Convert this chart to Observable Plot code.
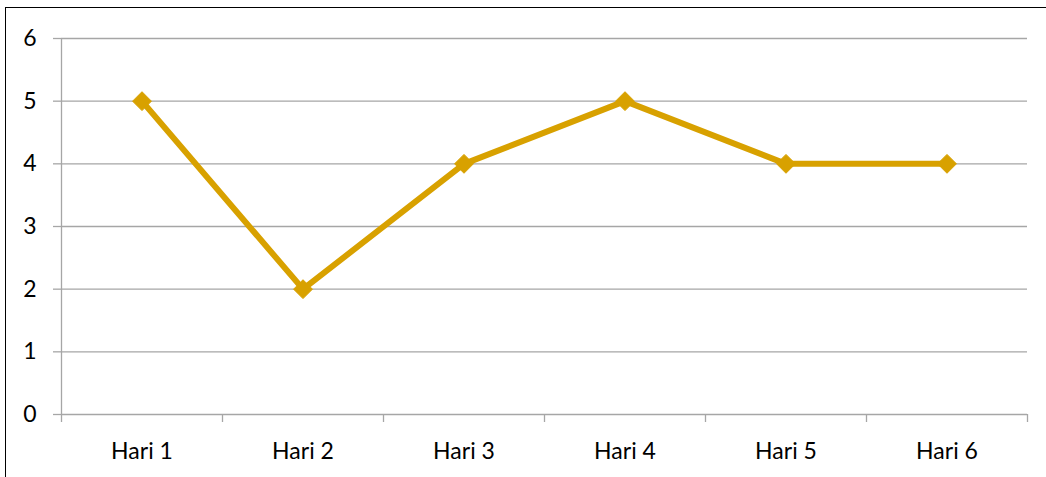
<!DOCTYPE html>
<html>
<head>
<meta charset="utf-8">
<script src="https://cdn.jsdelivr.net/npm/d3@7"></script>
<script src="https://cdn.jsdelivr.net/npm/@observablehq/plot@0.6"></script>
<style>
  html, body { margin: 0; padding: 0; background: #fff; }
  #wrap { position: relative; width: 1046px; height: 477px; overflow: hidden; background: #fff; }
  #frame { position: absolute; left: 5px; top: 7px; width: 1100px; height: 600px;
           border-left: 1.5px solid #000; border-top: 1.5px solid #000; pointer-events: none; }
  #wrap svg { position: absolute; left: 0; top: 0; }
</style>
</head>
<body>
<div id="wrap"><div id="frame"></div></div>
<script>
const categories = ["Hari 1", "Hari 2", "Hari 3", "Hari 4", "Hari 5", "Hari 6"];
const values = [5, 2, 4, 5, 4, 4];
const yTicks = [0, 1, 2, 3, 4, 5, 6];

const data = categories.map((c, i) => ({cat: c, pos: i + 0.5, value: values[i]}));
const centers = data.map(d => d.pos);
const bounds = d3.range(categories.length + 1);
const font = "Lato, 'Open Sans', sans-serif";
const lineColor = "#d8a100";

const chart = Plot.plot({
  width: 1046,
  height: 477,
  marginLeft: 61,
  marginRight: 19,
  marginTop: 38,
  marginBottom: 63,
  style: {fontFamily: font, fontSize: "23px", color: "#000", background: "transparent", overflow: "visible"},
  x: {type: "linear", domain: [0, categories.length]},
  y: {domain: [0, 6]},
  marks: [
    Plot.gridY(yTicks, {stroke: "#a6a6a6", strokeOpacity: 1, strokeWidth: 1.3}),
    Plot.axisY(yTicks, {tickSize: 8, tickPadding: 17, tickFormat: d3.format("d"), stroke: "#a6a6a6", strokeWidth: 1.3, label: null, fill: "#000", fontSize: 23}),
    Plot.ruleX([0], {y1: 0, y2: 6, stroke: "#a6a6a6", strokeWidth: 1.3}),
    Plot.axisX(bounds, {tickSize: 8, tickFormat: () => "", stroke: "#a6a6a6", strokeWidth: 1.3, label: null}),
    Plot.axisX(centers, {tickSize: 0, tickPadding: 28, tickFormat: (d) => categories[Math.round(d - 0.5)], label: null, fill: "#000", fontSize: 23}),
    Plot.line(data, {x: "pos", y: "value", stroke: lineColor, strokeWidth: 6, strokeLinejoin: "miter"}),
    Plot.dot(data, {x: "pos", y: "value", symbol: "diamond2", r: 8.5, fill: lineColor, stroke: lineColor, strokeWidth: 1})
  ]
});
document.getElementById("wrap").appendChild(chart);
</script>
</body>
</html>
